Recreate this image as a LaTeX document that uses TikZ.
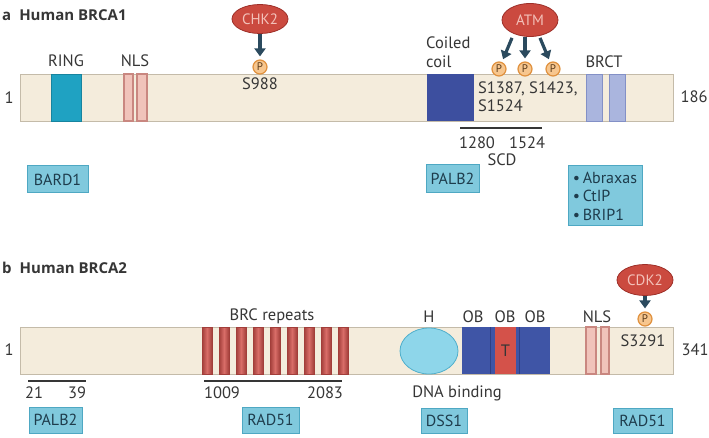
\documentclass[tikz,border=0pt]{standalone}
\usepackage{fontspec}
\setmainfont{PT Sans}
\newfontfamily\ttlfont{Open Sans}
\usetikzlibrary{arrows.meta,shapes.geometric}
\definecolor{barfill}{HTML}{F4ECDC}
\definecolor{barline}{HTML}{C4BBA9}
\definecolor{ringc}{HTML}{1FA2C2}
\definecolor{ringl}{HTML}{17849F}
\definecolor{nlsf}{HTML}{F0C3BA}
\definecolor{nlsl}{HTML}{C98780}
\definecolor{coilc}{HTML}{3D4F9F}
\definecolor{brctf}{HTML}{AAB5DE}
\definecolor{brctl}{HTML}{8390C6}
\definecolor{brcf}{HTML}{D96E68}
\definecolor{brcl}{HTML}{A23E3A}
\definecolor{obc}{HTML}{3F55A6}
\definecolor{obl}{HTML}{2E3F85}
\definecolor{tc}{HTML}{D4524A}
\definecolor{hf}{HTML}{8ED6EA}
\definecolor{hl}{HTML}{4FAECB}
\definecolor{boxf}{HTML}{80C9DD}
\definecolor{boxl}{HTML}{4EA8C3}
\definecolor{boxt}{HTML}{1E3C4C}
\definecolor{kinf}{HTML}{CB4A3F}
\definecolor{kinl}{HTML}{9E2F28}
\definecolor{kint}{HTML}{F3C2BA}
\definecolor{pf}{HTML}{F7C68E}
\definecolor{pl}{HTML}{E0913E}
\definecolor{pt}{HTML}{5A3A1A}
\definecolor{arrc}{HTML}{2B4A5E}
\definecolor{txt}{HTML}{363636}
\tikzset{
  protbar/.style={draw=barline, fill=barfill, line width=0.8pt, minimum width=653pt, minimum height=47pt, inner sep=0pt},
  lbl/.style={text=txt, font=\fontsize{16.5}{18}\selectfont, inner sep=0pt},
  ttl/.style={text=txt, font=\ttlfont\fontsize{15}{17}\selectfont\bfseries, inner sep=0pt, anchor=west},
  pbox/.style={draw=boxl, fill=boxf, line width=1pt, text=boxt, font=\fontsize{16}{18}\selectfont, inner sep=0pt},
  kinase/.style={ellipse, draw=kinl, fill=kinf, line width=0.8pt, text=kint, font=\fontsize{15}{17}\selectfont, minimum width=56pt, minimum height=31pt, inner sep=0pt},
  phos/.style={circle, draw=pl, fill=pf, line width=1.2pt, minimum size=14pt, inner sep=0pt, text=pt, font=\fontsize{11}{11}\selectfont},
  karrow/.style={draw=arrc, line width=3.2pt, -{Triangle[length=8pt,width=11pt]}, shorten >=3pt},
  rule/.style={draw=txt, line width=1.6pt},
  brcstripe/.style={draw=brcl, line width=0.7pt, left color=brcl, right color=brcl, middle color=brcf}
}
\begin{document}
\begin{tikzpicture}[x=1pt,y=-1pt]
\useasboundingbox (0,0) rectangle (709,438);
\fill[white] (0,0) rectangle (709,438);

% ---------------- BRCA1 ----------------
\node[ttl] (ta) at (2,15) {a\hspace{8pt}Human BRCA1};
\node[protbar] (bar1) at (346.5,97.5) {};
% RING
\draw[fill=ringc, draw=ringl, line width=0.6pt] (51,74) rectangle (81,121);
\node[lbl] (ring) at (66,61) {RING};
% NLS
\draw[fill=nlsf, draw=nlsl, line width=1.2pt] (124,74) rectangle (133,121);
\draw[fill=nlsf, draw=nlsl, line width=1.2pt] (137,74) rectangle (147,121);
\node[lbl] (nls1) at (135,61) {NLS};
% coiled coil
\fill[coilc] (427,74) rectangle (474,121);
\node[lbl, align=left, anchor=west, font=\fontsize{16.5}{19}\selectfont] (coil) at (426,52) {Coiled\\coil};
% BRCT
\draw[fill=brctf, draw=brctl, line width=0.8pt] (586,74) rectangle (602,121);
\draw[fill=brctf, draw=brctl, line width=0.8pt] (609,74) rectangle (625,121);
\node[lbl] (brct) at (604,62) {BRCT};
\node[lbl] (one1) at (9,98) {1};
\node[lbl] (end1) at (694,97) {186};
% CHK2
\node[kinase, minimum height=29pt] (chk2) at (260,19) {CHK2};
\node[phos] (p0) at (260,67) {P};
\draw[karrow] (chk2) -- (p0);
\node[lbl] (s988) at (260,84) {S988};
% ATM
\node[kinase, minimum height=33pt] (atm) at (530,20) {ATM};
\node[phos] (p1) at (499,69) {P};
\node[phos] (p2) at (525,69) {P};
\node[phos] (p3) at (553,69) {P};
\draw[karrow] ([xshift=-18pt,yshift=-1pt]atm.south) -- (p1);
\draw[karrow] ([xshift=-5pt]atm.south) -- (p2);
\draw[karrow] ([xshift=10pt,yshift=-1pt]atm.south) -- (p3);
\node[lbl, anchor=west, align=left, font=\fontsize{16.5}{18}\selectfont] (sites) at (478,97) {S1387, S1423,\\S1524};
% SCD
\coordinate (scdA) at (460,128);
\coordinate (scdB) at (542,128);
\draw[rule] (scdA) -- (scdB);
\node[lbl] (n1280) at (477,143) {1280};
\node[lbl] (n1524) at (527,143) {1524};
\node[lbl] (scd) at (502,160) {SCD};
% partner boxes
\node[pbox, minimum width=61pt, minimum height=27pt] (bard1) at (57.5,179.5) {BARD1};
\node[pbox, minimum width=53pt, minimum height=28pt] (palb2a) at (452.5,179) {PALB2};
\node[pbox, minimum width=74pt, minimum height=60pt, align=left, font=\fontsize{16}{18.5}\selectfont] (abx) at (605,196) {\textbullet\,Abraxas\\\textbullet\,CtIP\\\textbullet\,BRIP1};

% ---------------- BRCA2 ----------------
\node[ttl] (tb) at (2,268) {b\hspace{8pt}Human BRCA2};
\node[protbar] (bar2) at (346.5,350.5) {};
\foreach \i in {0,...,8}{
  \draw[brcstripe] ({202+17*\i},327) rectangle ({212+17*\i},374);
}
\node[lbl] (brc) at (272,316) {BRC repeats};
\coordinate (brcA) at (204,381);
\coordinate (brcB) at (342,381);
\draw[rule] (brcA) -- (brcB);
\node[lbl] (n1009) at (222,393) {1009};
\node[lbl] (n2083) at (325,393) {2083};
\coordinate (palA) at (28,381);
\coordinate (palB) at (86,381);
\draw[rule] (palA) -- (palB);
\node[lbl] (n21) at (34,393) {21};
\node[lbl] (n39) at (77,393) {39};
% helical domain
\node[ellipse, draw=hl, fill=hf, line width=0.8pt, minimum width=58pt, minimum height=46pt, inner sep=0pt] (hdom) at (429,351) {};
\node[lbl] (hlab) at (429,317) {H};
% OB folds
\fill[obc] (462,327) rectangle (550,374);
\fill[tc] (495,327) rectangle (516,374);
\draw[obl, line width=0.8pt] (490,327) -- (490,374);
\draw[obl, line width=0.8pt] (519,327) -- (519,374);
\node[lbl] (tlab) at (505.5,351) {T};
\node[lbl] (ob1) at (473,317) {OB};
\node[lbl] (ob2) at (505,317) {OB};
\node[lbl] (ob3) at (535,317) {OB};
% NLS
\draw[fill=nlsf, draw=nlsl, line width=1.2pt] (586,327) rectangle (596,374);
\draw[fill=nlsf, draw=nlsl, line width=1.2pt] (601,327) rectangle (609,374);
\node[lbl] (nls2) at (597,317) {NLS};
\node[lbl] (one2) at (9,350) {1};
\node[lbl] (end2) at (695,350) {341};
% CDK2
\node[kinase] (cdk2) at (645,280) {CDK2};
\node[phos] (p4) at (645,319) {P};
\draw[karrow] (cdk2) -- (p4);
\node[lbl] (s3291) at (643,341) {S3291};
\node[lbl] (dnab) at (457,393) {DNA binding};
% partner boxes
\node[pbox, minimum width=53pt, minimum height=26pt] (palb2b) at (55.5,420) {PALB2};
\node[pbox, minimum width=57pt, minimum height=26pt] (rad51a) at (270.5,420) {RAD51};
\node[pbox, minimum width=46pt, minimum height=25pt] (dss1) at (444,420.5) {DSS1};
\node[pbox, minimum width=59pt, minimum height=25pt] (rad51b) at (642.5,420.5) {RAD51};
\end{tikzpicture}
\end{document}
